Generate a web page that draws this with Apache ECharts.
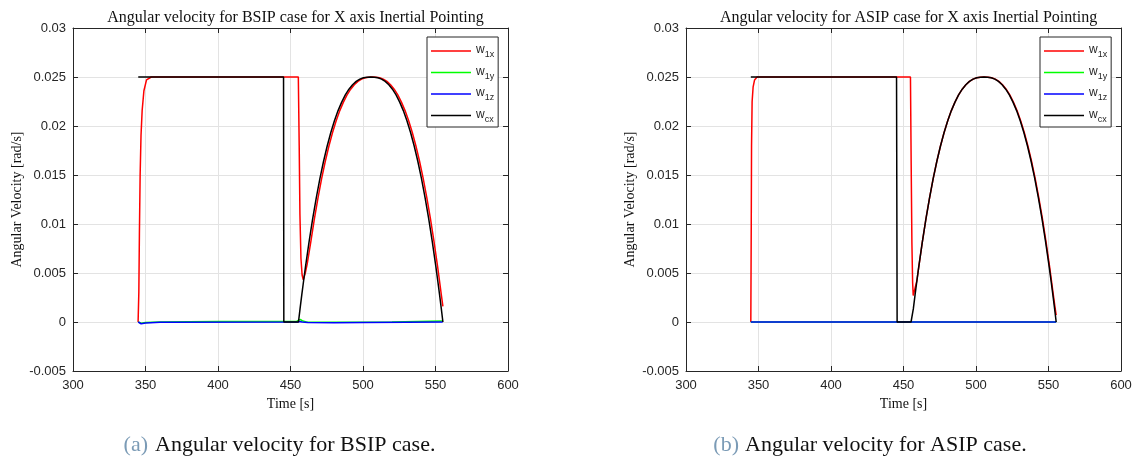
<!DOCTYPE html>
<html>
<head>
<meta charset="utf-8">
<script src="https://cdn.jsdelivr.net/npm/echarts@6/dist/echarts.min.js"></script>
<style>
html,body{margin:0;padding:0;background:#fff;}
#c{width:1145px;height:464px;}
</style>
</head>
<body>
<div id="c"></div>
<script>
// ---------- DATA ----------
const xTicks = [300, 350, 400, 450, 500, 550, 600];
const yTicks = [-0.005, 0, 0.005, 0.01, 0.015, 0.02, 0.025, 0.03];
const seriesNames = ['w1x', 'w1y', 'w1z', 'wcx'];
const seriesColors = ['#ff0000', '#00ff00', '#0000ff', '#000000'];

// BSIP case (left)
const bsipW1xT = [344.9, 345.4, 345.8, 346.3, 346.9, 347.7, 348.9, 350.7, 354, 455.4, 456.0, 456.5, 457.2, 458.0, 458.8,
  460.2, 461.5, 464.0, 466.5, 469.0, 471.5, 474.0, 476.5, 479.0, 481.5, 484.0, 486.5, 489.0, 491.5, 494.0, 496.5, 499.0, 501.5, 504.0, 506.5,
  509.0, 511.5, 514.0, 516.5, 519.0, 521.5, 524.0, 526.5, 529.0, 531.5, 534.0, 536.5, 539.0, 541.5, 544.0, 546.5, 549.0, 551.5, 552.8, 554.0, 555.1];
const bsipW1xV = [0, 0.003, 0.009, 0.015, 0.019, 0.0216, 0.0236, 0.0247, 0.025, 0.025, 0.018, 0.011, 0.0065, 0.0048, 0.0043,
  0.0050, 0.0059, 0.00818, 0.01055, 0.0127, 0.01465, 0.0164, 0.01796, 0.01934, 0.02054, 0.02157, 0.02244, 0.02317, 0.02376, 0.02421, 0.02455, 0.02478, 0.02492, 0.024986, 0.025,
  0.024986, 0.02492, 0.02478, 0.02455, 0.02421, 0.02376, 0.02317, 0.02244, 0.02157, 0.02054, 0.01934, 0.01796, 0.0164, 0.01465, 0.0127, 0.01055, 0.00818, 0.0056, 0.00416, 0.00279, 0.0016];
const bsipW1yT = [345, 345.8, 347, 350, 360, 400, 454, 455.6, 457, 458.5, 461, 470, 490, 520, 555];
const bsipW1yV = [0, -0.0001, -0.00012, -0.00005, 0, 0.00005, 0.00005, 0.0002, 0.00025, 0.0001, 0, -0.00003, -0.00003, 0, 0.0001];
const bsipW1zT = [345, 345.8, 347, 350, 360, 455, 456.5, 458, 462, 480, 500, 530, 555];
const bsipW1zV = [0, -0.00018, -0.00018, -0.0001, -0.00002, 0, 0.00005, 0, -0.00005, -0.00008, -0.00005, -0.00002, 0];
const bsipWcxT = [345, 445.2, 445.4, 455.5, 456.6, 457.8, 459.0, 460.3, 462.8, 465.3, 467.8, 470.3, 472.8, 475.3, 477.8, 480.3, 482.8, 485.3, 487.8, 490.3, 492.8, 495.3, 497.8, 500.3, 502.8, 505.3,
  507.8, 510.3, 512.8, 515.3, 517.8, 520.3, 522.8, 525.3, 527.8, 530.3, 532.8, 535.3, 537.8, 540.3, 542.8, 545.3, 547.8, 550.3, 551.6, 552.8, 554.0, 555.1];
const bsipWcxV = [0.025, 0.025, 0, 0, 0.00136, 0.00279, 0.00416, 0.0056, 0.00818, 0.01055, 0.0127, 0.01465, 0.0164, 0.01796, 0.01934, 0.02054, 0.02157, 0.02244, 0.02317, 0.02376, 0.02421, 0.02455, 0.02478, 0.02492, 0.024986, 0.025,
  0.024986, 0.02492, 0.02478, 0.02455, 0.02421, 0.02376, 0.02317, 0.02244, 0.02157, 0.02054, 0.01934, 0.01796, 0.0164, 0.01465, 0.0127, 0.01055, 0.00818, 0.0056, 0.00416, 0.00279, 0.00136, 0];

// ASIP case (right)
const asipW1xT = [344.7, 345.0, 345.2, 345.6, 346.3, 347.3, 349, 454.8, 455.3, 455.8, 456.3, 456.7, 458.0, 459.2,
  460.5, 463.0, 465.5, 468.0, 470.5, 473.0, 475.5, 478.0, 480.5, 483.0, 485.5, 488.0, 490.5, 493.0, 495.5, 498.0, 500.5, 503.0, 505.5,
  508.3, 510.8, 513.3, 515.8, 518.3, 520.8, 523.3, 525.8, 528.3, 530.8, 533.3, 535.8, 538.3, 540.8, 543.3, 545.8, 548.3, 550.8, 552.1, 553.3, 554.5, 555.3];
const asipW1xV = [0, 0.010, 0.018, 0.0225, 0.0240, 0.0247, 0.025, 0.025, 0.016, 0.008, 0.0040, 0.0027, 0.0029, 0.0042,
  0.0056, 0.00818, 0.01055, 0.0127, 0.01465, 0.0164, 0.01796, 0.01934, 0.02054, 0.02157, 0.02244, 0.02317, 0.02376, 0.02421, 0.02455, 0.02478, 0.02492, 0.024986, 0.025,
  0.024986, 0.02492, 0.02478, 0.02455, 0.02421, 0.02376, 0.02317, 0.02244, 0.02157, 0.02054, 0.01934, 0.01796, 0.0164, 0.01465, 0.0127, 0.01055, 0.00818, 0.0056, 0.00416, 0.00279, 0.0015, 0.0007];
const asipW1yT = [344.7, 445.6, 455.1, 555.3];
const asipW1yV = [0, 0, 0, 0];
const asipW1zT = [344.7, 445.6, 455.1, 555.3];
const asipW1zV = [0, 0, 0, 0];
const asipWcxT = [344.7, 445.2, 445.6, 455.2, 456.8, 458.0, 459.2, 460.5, 463.0, 465.5, 468.0, 470.5, 473.0, 475.5, 478.0, 480.5, 483.0, 485.5, 488.0, 490.5, 493.0, 495.5, 498.0, 500.5, 503.0, 505.5,
  508.0, 510.5, 513.0, 515.5, 518.0, 520.5, 523.0, 525.5, 528.0, 530.5, 533.0, 535.5, 538.0, 540.5, 543.0, 545.5, 548.0, 550.5, 551.8, 553.0, 554.2, 555.3];
const asipWcxV = [0.025, 0.025, 0, 0, 0.00136, 0.00279, 0.00416, 0.0056, 0.00818, 0.01055, 0.0127, 0.01465, 0.0164, 0.01796, 0.01934, 0.02054, 0.02157, 0.02244, 0.02317, 0.02376, 0.02421, 0.02455, 0.02478, 0.02492, 0.024986, 0.025,
  0.024986, 0.02492, 0.02478, 0.02455, 0.02421, 0.02376, 0.02317, 0.02244, 0.02157, 0.02054, 0.01934, 0.01796, 0.0164, 0.01465, 0.0127, 0.01055, 0.00818, 0.0056, 0.00416, 0.00279, 0.00136, 0];

const titles = ['Angular velocity for BSIP case for X axis Inertial Pointing', 'Angular velocity for ASIP case for X axis Inertial Pointing'];
const captionTags = ['(a)', '(b)'];
const captions = ['Angular velocity for BSIP case.', 'Angular velocity for ASIP case.'];
const xName = 'Time [s]';
const yName = 'Angular Velocity [rad/s]';

// ---------- BUILD ----------
function pairs(T, V) { return T.map((t, i) => [t, V[i]]); }
const panels = [
  [[bsipW1xT, bsipW1xV], [bsipW1yT, bsipW1yV], [bsipW1zT, bsipW1zV], [bsipWcxT, bsipWcxV]],
  [[asipW1xT, asipW1xV], [asipW1yT, asipW1yV], [asipW1zT, asipW1zV], [asipWcxT, asipWcxV]]
];
const gridLefts = [73, 686];
const gridW = 435, gridTop = 28, gridH = 343;
const captionX = [279.5, 870];
const axisColor = '#262626';
const sans = 'Liberation Sans';
const serif = 'Liberation Serif';

const fmtY = v => Number(v.toFixed(3)).toString();

const option = {
  animation: false,
  backgroundColor: '#fff',
  title: titles.map((t, i) => ({
    text: t, left: gridLefts[i] + gridW / 2, top: 5, textAlign: 'center',
    textStyle: { fontFamily: serif, fontSize: 16, fontWeight: 'normal', color: '#111' }
  })),
  grid: gridLefts.map(l => ({ left: l, top: gridTop, width: gridW, height: gridH, containLabel: false })),
  legend: gridLefts.map((l, i) => ({
    data: seriesNames, orient: 'vertical', left: l + 354, top: 37,
    itemWidth: 40, itemHeight: 14, itemGap: 6, padding: [7, 4, 3, 4],
    icon: 'path://M0,0L40,0L40,1.5L0,1.5Z',
    borderColor: axisColor, borderWidth: 1, backgroundColor: '#fff',
    formatter: n => '{m|w}{s|' + n.slice(1) + '}',
    textStyle: {
      color: axisColor, fontFamily: sans,
      rich: { m: { fontSize: 12, fontFamily: sans, color: axisColor, padding: [0, 0, 2, 0] },
              s: { fontSize: 9, fontFamily: sans, color: axisColor, padding: [8, 0, 0, 0] } }
    },
    selectedMode: false
  })),
  xAxis: [],
  yAxis: [],
  series: [],
  graphic: []
};

gridLefts.forEach((l, gi) => {
  option.xAxis.push({
    type: 'value', gridIndex: gi, min: xTicks[0], max: xTicks[xTicks.length - 1], interval: 50,
    position: 'bottom', name: xName, nameLocation: 'middle', nameGap: 23,
    nameTextStyle: { fontFamily: serif, fontSize: 14, color: '#111' },
    axisLine: { show: true, onZero: false, lineStyle: { color: axisColor, width: 1 } },
    axisTick: { show: true, inside: true, length: 5, lineStyle: { color: axisColor } },
    axisLabel: { fontFamily: sans, fontSize: 13, color: axisColor, margin: 8 },
    splitLine: { show: true, lineStyle: { color: '#e3e3e3', width: 1 } }
  });
  option.xAxis.push({
    type: 'value', gridIndex: gi, min: xTicks[0], max: xTicks[xTicks.length - 1], interval: 50,
    position: 'top',
    axisLine: { show: true, onZero: false, lineStyle: { color: axisColor, width: 1 } },
    axisTick: { show: true, inside: true, length: 5, lineStyle: { color: axisColor } },
    axisLabel: { show: false }, splitLine: { show: false }
  });
  option.yAxis.push({
    type: 'value', gridIndex: gi, min: yTicks[0], max: yTicks[yTicks.length - 1], interval: 0.005,
    position: 'left', name: yName, nameLocation: 'middle', nameGap: 49,
    nameTextStyle: { fontFamily: serif, fontSize: 14, color: '#111' },
    axisLine: { show: true, onZero: false, lineStyle: { color: axisColor, width: 1 } },
    axisTick: { show: true, inside: true, length: 5, lineStyle: { color: axisColor } },
    axisLabel: { fontFamily: sans, fontSize: 13, color: axisColor, margin: 7, formatter: fmtY },
    splitLine: { show: true, lineStyle: { color: '#e3e3e3', width: 1 } }
  });
  option.yAxis.push({
    type: 'value', gridIndex: gi, min: yTicks[0], max: yTicks[yTicks.length - 1], interval: 0.005,
    position: 'right',
    axisLine: { show: true, onZero: false, lineStyle: { color: axisColor, width: 1 } },
    axisTick: { show: true, inside: true, length: 5, lineStyle: { color: axisColor } },
    axisLabel: { show: false }, splitLine: { show: false }
  });
  panels[gi].forEach((tv, si) => {
    option.series.push({
      type: 'line', name: seriesNames[si], xAxisIndex: gi * 2, yAxisIndex: gi * 2,
      data: pairs(tv[0], tv[1]), symbol: 'none', smooth: false,
      lineStyle: { color: seriesColors[si], width: 1.5 }, itemStyle: { color: seriesColors[si] },
      clip: true
    });
  });
  option.graphic.push({
    type: 'text', x: captionX[gi], y: 445,
    style: {
      text: '{a|' + captionTags[gi] + '}{b|' + captions[gi] + '}',
      align: 'center', verticalAlign: 'middle',
      rich: {
        a: { fontFamily: serif, fontSize: 22, fill: '#7b9bb6', color: '#7b9bb6', padding: [0, gi === 0 ? 7 : 6, 0, 0] },
        b: { fontFamily: serif, fontSize: 22, fill: '#111', color: '#111' }
      }
    }
  });
});

const chart = echarts.init(document.getElementById('c'), null, { renderer: 'canvas' });
chart.setOption(option);
</script>
</body>
</html>
